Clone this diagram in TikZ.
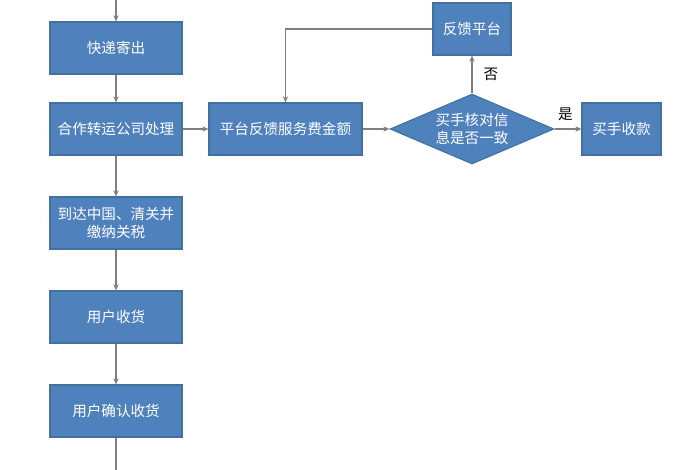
\documentclass[tikz,border=0pt]{standalone}
\usepackage{fontspec}
\newfontfamily\cjk{Noto Sans CJK SC}
\usetikzlibrary{arrows.meta,shapes.geometric,positioning}
\definecolor{boxblue}{HTML}{4F81BD}
\definecolor{boxedge}{HTML}{41719C}
\definecolor{linegray}{HTML}{7F7F7F}
\tikzset{
  stepbox/.style={draw=boxedge, fill=boxblue, text=white, line width=0.6pt, inner sep=1pt,
    minimum height=1.04cm, align=center, font=\cjk\fontsize{8.3}{10.5}\selectfont},
  decide/.style={diamond, aspect=2.34, draw=boxedge, fill=boxblue, text=white, line width=0.6pt, inner sep=0pt,
    minimum width=3.28cm, minimum height=1.4cm, align=center, font=\cjk\fontsize{8.3}{10.5}\selectfont},
  flow/.style={-{Stealth[length=3.5pt,width=3pt]}, linegray, line width=0.6pt},
  tag/.style={font=\cjk\fontsize{8.3}{10}\selectfont, text=black}
}

\begin{document}
\begin{tikzpicture}[x=0.02cm,y=-0.02cm]
  \useasboundingbox (0,0) rectangle (700,470);
  % left column
  \coordinate (top) at (116,0);
  \coordinate (bottom) at (116,470);
  \node[stepbox, minimum width=2.64cm] (send) at (116,48) {快递寄出};
  \node[stepbox, minimum width=2.64cm] (forward) at (116,129) {合作转运公司处理};
  \node[stepbox, minimum width=2.64cm] (customs) at (116,223) {到达中国、清关并\\缴纳关税};
  \node[stepbox, minimum width=2.64cm] (receive) at (116,317) {用户收货};
  \node[stepbox, minimum width=2.64cm] (confirm) at (116,411) {用户确认收货};
  % right branch
  \node[stepbox, minimum width=3.06cm] (fee) at (285.5,129) {平台反馈服务费金额};
  \node[decide] (check) at (472,129) {买手核对信\\息是否一致};
  \node[stepbox, minimum width=1.56cm] (report) at (472,29) {反馈平台};
  \node[stepbox, minimum width=1.58cm] (pay) at (621.5,129) {买手收款};

  \draw[flow] (top) -- (send);
  \draw[flow] (send) -- (forward);
  \draw[flow] (forward) -- (customs);
  \draw[flow] (customs) -- (receive);
  \draw[flow] (receive) -- (confirm);
  \draw[linegray, line width=0.6pt] (confirm) -- (bottom);
  \draw[flow] (forward) -- (fee);
  \draw[flow] (fee) -- (check);
  \draw[flow] (check) -- node[tag, right=3pt] {否} (report);
  \draw[flow] (check) -- node[tag, above=1pt, pos=0.4] {是} (pay);
  \draw[flow] (report.west) -| (fee.north);
\end{tikzpicture}
\end{document}
